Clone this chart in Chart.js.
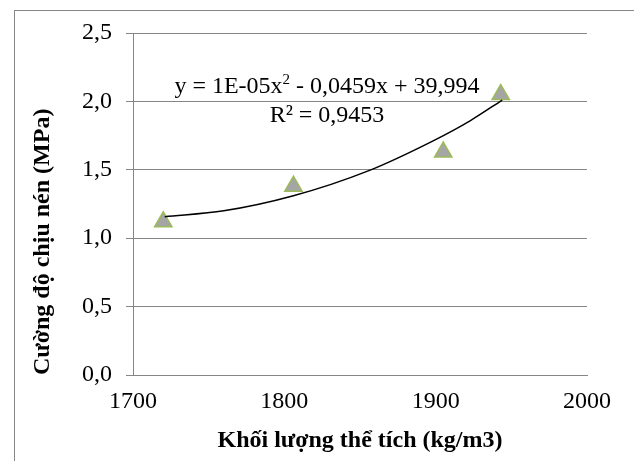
<!DOCTYPE html>
<html>
<head>
<meta charset="utf-8">
<script src="https://cdn.jsdelivr.net/npm/chart.js@4/dist/chart.umd.min.js"></script>
<style>
  body { margin: 0; background: #fff; }
  #wrap { position: relative; width: 634px; height: 461px; overflow: hidden; }
  #frame { position: absolute; left: 14px; top: 10px; width: 700px; height: 500px;
           border-left: 1px solid #868686; border-top: 1px solid #868686; }
  #chart { position: absolute; left: 0; top: 0; }
</style>
</head>
<body>
<div id="wrap">
  <div id="frame"></div>
  <canvas id="chart" width="634" height="461"></canvas>
</div>
<script>
// Measured data (density vs. compressive strength)
const density = [1720, 1806, 1905, 1943];
const strength = [1.12, 1.38, 1.63, 2.05];

// Polynomial trendline
const trendX = [1721, 1760, 1806, 1855, 1898, 1923, 1944];
const trendY = [1.157, 1.20, 1.31, 1.49, 1.71, 1.86, 2.01];

const xTitle = 'Khối lượng thể tích (kg/m3)';
const yTitle = 'Cường độ chịu nén (MPa)';
const eqHead = 'y = 1E-05x';
const eqSup = '2';
const eqTail = ' - 0,0459x + 39,994';
const rSquared = 'R² = 0,9453';

const serif = "'Liberation Serif', 'Times New Roman', serif";
const gridGrey = '#868686';

// Trendline equation label
const equationLabel = {
    id: 'equationLabel',
    afterDatasetsDraw(chart) {
        const ctx = chart.ctx;
        const area = chart.chartArea;
        const cx = area.left + 194;
        ctx.save();
        ctx.fillStyle = '#000';
        ctx.textBaseline = 'alphabetic';
        ctx.textAlign = 'left';

        ctx.font = '24px ' + serif;
        const w1 = ctx.measureText(eqHead).width;
        const w3 = ctx.measureText(eqTail).width;
        ctx.font = '15px ' + serif;
        const w2 = ctx.measureText(eqSup).width;
        let x = cx - (w1 + w2 + w3) / 2;
        const y = area.top + 60;

        ctx.font = '24px ' + serif;
        ctx.fillText(eqHead, x, y);
        x += w1;
        ctx.font = '15px ' + serif;
        ctx.fillText(eqSup, x, y - 9);
        x += w2;
        ctx.font = '24px ' + serif;
        ctx.fillText(eqTail, x, y);

        ctx.textAlign = 'center';
        ctx.fillText(rSquared, cx, y + 29);
        ctx.restore();
    }
};

const ctx = document.getElementById('chart').getContext('2d');
new Chart(ctx, {
    type: 'scatter',
    data: {
        datasets: [
            {
                label: 'Trend',
                type: 'line',
                data: trendX.map((x, i) => ({ x: x, y: trendY[i] })),
                borderColor: '#000',
                borderWidth: 1.5,
                pointRadius: 0,
                fill: false,
                cubicInterpolationMode: 'monotone',
                order: 0
            },
            {
                label: 'Data',
                data: density.map((x, i) => ({ x: x, y: strength[i] })),
                pointStyle: 'triangle',
                pointRadius: 10,
                pointHoverRadius: 10,
                backgroundColor: '#a5a5a5',
                borderColor: '#9bbb59',
                borderWidth: 1.5,
                order: 1
            }
        ]
    },
    options: {
        responsive: false,
        animation: false,
        layout: { padding: { left: 0, top: 33, right: 47, bottom: 0 } },
        plugins: {
            legend: { display: false },
            tooltip: { enabled: false }
        },
        scales: {
            x: {
                type: 'linear',
                min: 1700,
                max: 2000,
                ticks: {
                    stepSize: 100,
                    padding: 12,
                    color: '#000',
                    font: { family: serif, size: 24 },
                    callback: v => String(v)
                },
                grid: { display: false, drawTicks: false },
                border: { display: true, color: gridGrey, width: 1 },
                title: {
                    display: true,
                    text: xTitle,
                    color: '#000',
                    font: { family: serif, size: 24, weight: 'bold' },
                    padding: { top: 0, bottom: 6 }
                },
                afterFit: scale => { scale.height = 86; }
            },
            y: {
                min: 0,
                max: 2.5,
                ticks: {
                    stepSize: 0.5,
                    padding: 14,
                    color: '#000',
                    font: { family: serif, size: 24 },
                    callback: v => v.toFixed(1).replace('.', ',')
                },
                grid: { color: gridGrey, lineWidth: 1, tickLength: 7, tickColor: gridGrey },
                border: { display: true, color: gridGrey, width: 1 },
                title: {
                    display: true,
                    text: yTitle,
                    align: 'start',
                    color: '#000',
                    font: { family: serif, size: 24, weight: 'bold' },
                    padding: { top: 28, bottom: 0 }
                },
                afterFit: scale => { scale.width = 133; }
            }
        }
    },
    plugins: [equationLabel]
});
</script>
</body>
</html>
